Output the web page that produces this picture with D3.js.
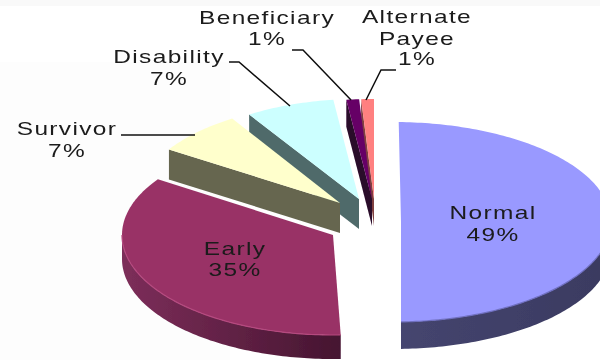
<!DOCTYPE html>
<html>
<head>
<meta charset="utf-8">
<script src="https://cdn.jsdelivr.net/npm/d3@7"></script>
<style>
html,body{margin:0;padding:0;background:#fff;overflow:hidden}
svg{display:block}
text{font-family:"Liberation Sans",Arial,sans-serif;font-size:18px;letter-spacing:1px;fill:#1a1a1a}
</style>
</head>
<body>
<svg id="chart" width="600" height="360"></svg>
<script>
// data
const categories = ["Normal", "Early", "Survivor", "Disability", "Beneficiary", "Alternate Payee"];
const values = [49, 35, 7, 7, 1, 1];

// styles
const topColors = ["#9999ff", "#993366", "#ffffcc", "#ccffff", "#660066", "#ff8080"];
const rimLeft = ["#45456f", "#7d2e5a", "#66664f", "#4f6b6b", "#2a0a2a", "#803f3f"];
const rimRight = ["#3a3a60", "#451530", "#66664f", "#4f6b6b", "#2a0a2a", "#803f3f"];
const rimHighlight = ["#6f6fc0", "#b5497f", null, null, null, null];

// layout of the exploded slices
const centerX = [393, 333, 342, 359, 372, 374];
const centerY = [222, 235, 203, 199, 199, 199];
const apexX = [401, 333, 340, 359, 372, 374];
const radiusX = [218, 211, 205, 205, 205, 205];
const radiusY = [100, 100, 100, 100, 100, 100];
const spinDeg = [1.5, 1.5, 0, 0, 0, 0];
const depth = [27, 24, 30, 30, 27, 27];
const hasSideWall = [false, false, true, true, true, true];

// labels: lines of text, centre and baselines
const labelLines = [["Normal", "49%"], ["Early", "35%"], ["Survivor", "7%"], ["Disability", "7%"], ["Beneficiary", "1%"], ["Alternate", "Payee", "1%"]];
const labelX = [493, 235, 67, 169, 267, 417];
const labelY = [[219, 241], [255, 276], [135, 157], [63, 85], [24, 45], [23, 45, 65]];
const leaders = [null, null,
  [[121, 135], [195, 135]],
  [[229, 62], [239, 62], [290, 106]],
  [[292, 50], [303, 50], [351, 100]],
  [[396, 70], [381, 70], [366, 100]]];

const svg = d3.select("#chart");
const defs = svg.append("defs");
const blur = defs.append("filter").attr("id", "soft").attr("x", "-5%").attr("y", "-5%").attr("width", "110%").attr("height", "110%");
blur.append("feGaussianBlur").attr("stdDeviation", 0.55);

svg.append("rect").attr("width", 600).attr("height", 360).attr("fill", "#ffffff");
svg.append("rect").attr("width", 600).attr("height", 6).attr("fill", "#f9f9f9");
svg.append("rect").attr("y", 62).attr("width", 230).attr("height", 298).attr("fill", "#fdfdfd");

const arcs = d3.pie().sort(null).value(d => d).startAngle(0).endAngle(2 * Math.PI)(values);
const line = d3.line();
const rad = Math.PI / 180;

const project = (i, a, drop = 0) => {
  const t = a + spinDeg[i] * rad;
  return [centerX[i] + radiusX[i] * Math.sin(t), centerY[i] - radiusY[i] * Math.cos(t) + drop];
};
const sweep = (a0, a1) => {
  const n = Math.max(2, Math.ceil(Math.abs(a1 - a0) / (1 * rad)));
  return d3.range(n + 1).map(k => a0 + (a1 - a0) * k / n);
};

const g = svg.append("g").attr("filter", "url(#soft)");

// painter's order: back slices first
const order = d3.range(values.length).reverse();
order.forEach(i => {
  const a = arcs[i];
  const apex = [apexX[i], centerY[i]];
  const slice = g.append("g").attr("class", "slice").attr("data-name", categories[i]);

  // outer rim, visible on the near half only
  const r0 = Math.max(a.startAngle, Math.PI / 2 - spinDeg[i] * rad);
  const r1 = Math.min(a.endAngle, 3 * Math.PI / 2 - spinDeg[i] * rad);
  let rimEdge = null;
  if (r1 > r0) {
    const gid = "rim" + i;
    const edge = sweep(r0, r1).map(t => project(i, t));
    const lower = edge.map(p => [p[0], p[1] + depth[i]]).reverse();
    const xs = d3.extent(edge, p => p[0]);
    const lg = defs.append("linearGradient").attr("id", gid).attr("gradientUnits", "userSpaceOnUse")
      .attr("x1", xs[0]).attr("x2", xs[1]).attr("y1", 0).attr("y2", 0);
    lg.append("stop").attr("offset", 0).attr("stop-color", rimLeft[i]);
    lg.append("stop").attr("offset", 1).attr("stop-color", rimRight[i]);
    slice.append("path").attr("d", line(edge.concat(lower)) + "Z").attr("fill", `url(#${gid})`);
    rimEdge = edge;
  }

  // side wall along the slice's starting edge
  if (hasSideWall[i]) {
    const p = project(i, a.startAngle);
    const wall = [p, apex, [apex[0], apex[1] + depth[i]], [p[0], p[1] + depth[i]]];
    slice.append("path").attr("d", line(wall) + "Z").attr("fill", rimLeft[i]);
  }

  // top face
  const rimPts = sweep(a.startAngle, a.endAngle).map(t => project(i, t));
  slice.append("path").attr("d", line([apex].concat(rimPts)) + "Z").attr("fill", topColors[i]);

  // soft highlight where the top face meets the rim
  if (rimEdge && rimHighlight[i]) {
    slice.append("path").attr("d", line(rimEdge)).attr("fill", "none")
      .attr("stroke", rimHighlight[i]).attr("stroke-width", 1.2);
  }
});

// leader lines
g.append("g").selectAll("path").data(leaders.filter(Boolean)).join("path")
  .attr("d", d => line(d)).attr("fill", "none").attr("stroke", "#111").attr("stroke-width", 1.5);

// labels
const labels = svg.append("g").attr("filter", "url(#soft)");
labelLines.forEach((lines, i) => {
  lines.forEach((txt, k) => {
    labels.append("text")
      .attr("text-anchor", "middle")
      .attr("transform", `translate(${labelX[i]},${labelY[i][k]}) scale(1.36,1)`)
      .text(txt);
  });
});
</script>
</body>
</html>
